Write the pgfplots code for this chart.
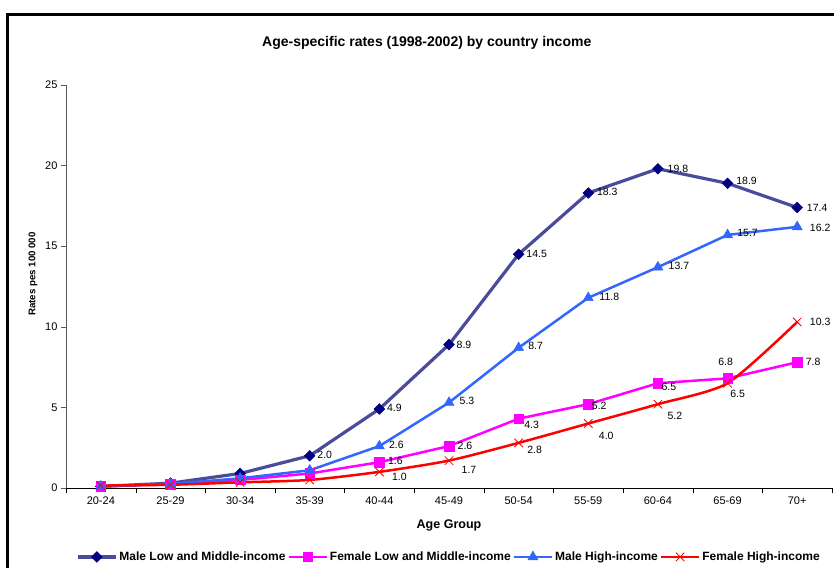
\documentclass[border=0pt]{standalone}
\usepackage{pgfplots}
\pgfplotsset{compat=1.18}
\usepackage{pgfplotstable}
\usepackage{fontspec}
\setmainfont{Liberation Sans}

\definecolor{mlmiline}{RGB}{75,75,155}
\definecolor{mlmimark}{RGB}{0,0,128}
\definecolor{flmi}{RGB}{255,0,255}
\definecolor{mhi}{RGB}{51,102,255}
\definecolor{fhi}{RGB}{255,0,0}

% age group index, rate, label, label offset (pt)
\pgfplotstableread{
x y lab dx dy
0 0.1 {} 0 0
1 0.3 {} 0 0
2 0.9 {} 0 0
3 2.0 2.0 15 1
4 4.9 4.9 15 1
5 8.9 8.9 15 0
6 14.5 14.5 18 0
7 18.3 18.3 19 1
8 19.8 19.8 20 0
9 18.9 18.9 19 2
10 17.4 17.4 20 0
}\maleLMI

\pgfplotstableread{
x y lab dx dy
0 0.1 {} 0 0
1 0.25 {} 0 0
2 0.5 {} 0 0
3 0.9 {} 0 0
4 1.6 1.6 16 1
5 2.6 2.6 16 0
6 4.3 4.3 13 -6
7 5.2 5.2 11 -2
8 6.5 6.5 11 -4
9 6.8 6.8 -2 16
10 7.8 7.8 16 0
}\femaleLMI

\pgfplotstableread{
x y lab dx dy
0 0.1 {} 0 0
1 0.25 {} 0 0
2 0.6 {} 0 0
3 1.1 {} 0 0
4 2.6 2.6 17 1
5 5.3 5.3 18 2
6 8.7 8.7 17 2
7 11.8 11.8 21 1
8 13.7 13.7 21 1
9 15.7 15.7 20 2
10 16.2 16.2 23 -1
}\maleHI

\pgfplotstableread{
x y lab dx dy
0 0.15 {} 0 0
1 0.2 {} 0 0
2 0.35 {} 0 0
3 0.5 {} 0 0
4 1.0 1.0 20 -5
5 1.7 1.7 20 -9
6 2.8 2.8 16 -7
7 4.0 4.0 18 -12
8 5.2 5.2 17 -12
9 6.5 6.5 10 -11
10 10.3 10.3 23 0
}\femaleHI

\pgfplotsset{
  datalabels/.style={
    point meta=explicit symbolic,
    nodes near coords,
    visualization depends on={\thisrow{dx}\as\dx},
    visualization depends on={\thisrow{dy}\as\dy},
    nodes near coords style={font=\fontsize{10.5}{12}\selectfont, text=black,
      anchor=center, xshift=\dx pt, yshift=\dy pt},
  },
}

\begin{document}
\begin{tikzpicture}
\begin{axis}[
  at={(0,0)}, anchor=south west,
  scale only axis, width=766pt, height=403pt,
  font=\fontsize{11}{13}\selectfont,
  /pgf/number format/assume math mode=true,
  xmin=-0.5, xmax=10.5, ymin=0, ymax=25,
  axis x line=bottom, axis y line=left,
  axis line style={-},
  y axis line style={black!65},
  tick align=outside,
  xtick={0,...,10},
  xticklabels={20-24,25-29,30-34,35-39,40-44,45-49,50-54,55-59,60-64,65-69,70+},
  major x tick style={draw=none},
  minor xtick={-0.5,0.5,...,10.5},
  minor x tick style={black},
  minor tick length=5pt,
  major tick length=5pt,
  ytick={0,5,10,15,20,25},
  y tick style={black!65},
  xlabel={Age Group},
  ylabel={Rates pes 100 000},
  xlabel style={font=\fontsize{12.5}{14}\selectfont\bfseries, at={(rel axis cs:0.5,-0.094)}, anchor=center},
  ylabel style={font=\fontsize{9.7}{12}\selectfont\bfseries, at={(rel axis cs:-0.043,0.531)}, anchor=center},
  title={Age-specific rates (1998-2002) by country income},
  title style={font=\fontsize{14}{16}\selectfont\bfseries, at={(rel axis cs:0.471,1.089)}, anchor=center},
  legend columns=4,
  legend style={draw=none, at={(rel axis cs:0.5,-0.171)}, anchor=center,
    font=\fontsize{12}{14}\selectfont\bfseries,
    nodes={inner xsep=2pt},
    /tikz/every even column/.append style={column sep=0pt}},
  legend image code/.code={\draw[mark repeat=2,mark phase=2,#1] plot coordinates {(0pt,0pt)(19pt,0pt)(38pt,0pt)};},
]

\addplot[color=mlmiline, line width=3.2pt, mark=square*, mark size=3.8pt,
  mark options={rotate=45, fill=mlmimark, draw=mlmimark, line width=0.5pt}, datalabels]
  table[x=x, y=y, meta=lab]{\maleLMI};
\addlegendentry{Male Low and Middle-income}

\addplot[color=flmi, line width=2.5pt, mark=square*, mark size=4.8pt,
  mark options={fill=flmi, draw=flmi, line width=0.5pt}, datalabels]
  table[x=x, y=y, meta=lab]{\femaleLMI};
\addlegendentry{Female Low and Middle-income}

\addplot[color=mhi, line width=2.5pt, mark=triangle*, mark size=5.8pt,
  mark options={fill=mhi, draw=mhi, line width=0.5pt}, datalabels]
  table[x=x, y=y, meta=lab]{\maleHI};
\addlegendentry{Male High-income}

\addplot[color=fhi, line width=2.5pt, smooth, tension=0.4, mark=x, mark size=6pt,
  mark options={line width=0.8pt}, datalabels]
  table[x=x, y=y, meta=lab]{\femaleHI};
\addlegendentry{Female High-income}

\end{axis}
\draw[line width=3pt] (-58pt,-150pt) -- (-58pt,473pt) -- (900pt,473pt);
\pgfresetboundingbox
\path[use as bounding box] (-66pt,-79pt) rectangle (768pt,488pt);
\end{tikzpicture}
\end{document}
